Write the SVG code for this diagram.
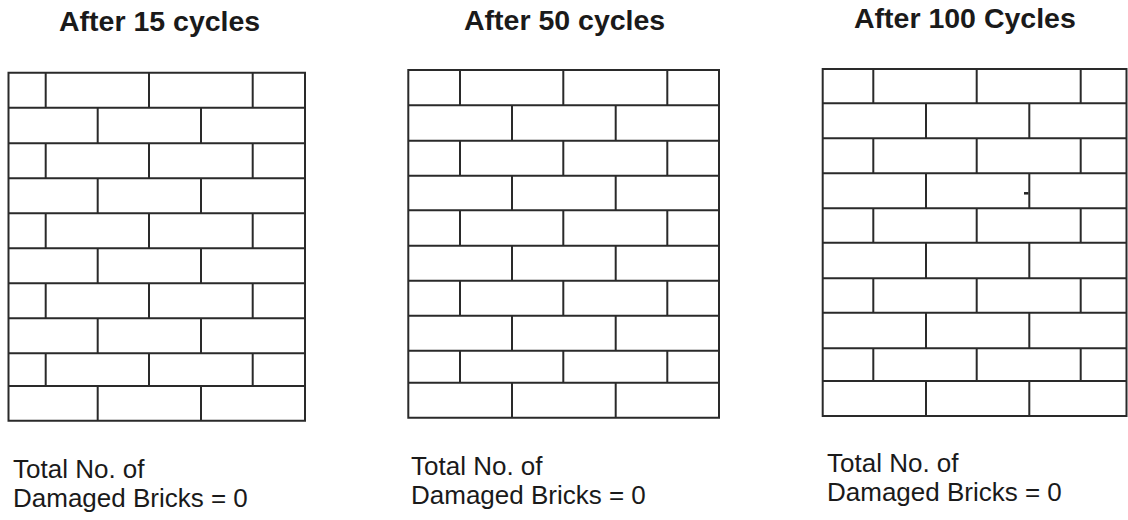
<svg xmlns="http://www.w3.org/2000/svg" width="1128" height="520" viewBox="0 0 1128 520">
<style>
.t{font-family:"Liberation Sans",Arial,sans-serif;font-weight:bold;font-size:28.5px;fill:#1a1a1a}
.b{font-family:"Liberation Sans",Arial,sans-serif;font-size:26px;fill:#1a1a1a}
.w{fill:none;stroke:#2a2a2a;stroke-width:2}
</style>
<rect width="1128" height="520" fill="#fff"/>
<g id="panel1">
<text class="t" x="59" y="31">After 15 cycles</text>
<path class="w" d="M8.5,72.7H305V420.7H8.5Z M8.5,107.7H305 M8.5,143.3H305 M8.5,178.3H305 M8.5,213.3H305 M8.5,248.3H305 M8.5,283.3H305 M8.5,318.3H305 M8.5,353.3H305 M8.5,386H305
M45.7,72.7V107.7 M149,72.7V107.7 M252.7,72.7V107.7
M97.7,107.7V143.3 M201,107.7V143.3
M45.7,143.3V178.3 M149,143.3V178.3 M252.7,143.3V178.3
M97.7,178.3V213.3 M201,178.3V213.3
M45.7,213.3V248.3 M149,213.3V248.3 M252.7,213.3V248.3
M97.7,248.3V283.3 M201,248.3V283.3
M45.7,283.3V318.3 M149,283.3V318.3 M252.7,283.3V318.3
M97.7,318.3V353.3 M201,318.3V353.3
M45.7,353.3V386 M149,353.3V386 M252.7,353.3V386
M97.7,386V420.7 M201,386V420.7"/>
<text class="b" x="13" y="478">Total No. of</text>
<text class="b" x="13" y="507">Damaged Bricks = 0</text>
</g>
<g id="panel2">
<text class="t" x="464" y="29.5">After 50 cycles</text>
<path class="w" d="M408.3,70H719V417.7H408.3Z M408.3,105.3H719 M408.3,140.7H719 M408.3,175.7H719 M408.3,210.3H719 M408.3,245.7H719 M408.3,280.7H719 M408.3,315.7H719 M408.3,350.7H719 M408.3,382.7H719
M460,70V105.3 M563.3,70V105.3 M667.3,70V105.3
M512,105.3V140.7 M615.7,105.3V140.7
M460,140.7V175.7 M563.3,140.7V175.7 M667.3,140.7V175.7
M512,175.7V210.3 M615.7,175.7V210.3
M460,210.3V245.7 M563.3,210.3V245.7 M667.3,210.3V245.7
M512,245.7V280.7 M615.7,245.7V280.7
M460,280.7V315.7 M563.3,280.7V315.7 M667.3,280.7V315.7
M512,315.7V350.7 M615.7,315.7V350.7
M460,350.7V382.7 M563.3,350.7V382.7 M667.3,350.7V382.7
M512,382.7V417.7 M615.7,382.7V417.7"/>
<text class="b" x="411" y="475">Total No. of</text>
<text class="b" x="411" y="504">Damaged Bricks = 0</text>
</g>
<g id="panel3">
<text class="t" x="854" y="27.5">After 100 Cycles</text>
<path class="w" d="M822.7,69H1126.5V416H822.7Z M822.7,103.3H1126.5 M822.7,138.3H1126.5 M822.7,173.3H1126.5 M822.7,208.3H1126.5 M822.7,242.7H1126.5 M822.7,278.3H1126.5 M822.7,312.7H1126.5 M822.7,348.3H1126.5 M822.7,381H1126.5
M873.3,69V103.3 M976.7,69V103.3 M1080.7,69V103.3
M926,103.3V138.3 M1029.3,103.3V138.3
M873.3,138.3V173.3 M976.7,138.3V173.3 M1080.7,138.3V173.3
M926,173.3V208.3 M1029.3,173.3V208.3
M873.3,208.3V242.7 M976.7,208.3V242.7 M1080.7,208.3V242.7
M926,242.7V278.3 M1029.3,242.7V278.3
M873.3,278.3V312.7 M976.7,278.3V312.7 M1080.7,278.3V312.7
M926,312.7V348.3 M1029.3,312.7V348.3
M873.3,348.3V381 M976.7,348.3V381 M1080.7,348.3V381
M926,381V416 M1029.3,381V416"/>
<path d="M1024,193.3H1028.5" stroke="#222" stroke-width="2.5"/>
<text class="b" x="827" y="472">Total No. of</text>
<text class="b" x="827" y="501">Damaged Bricks = 0</text>
</g>
<g id="connectors"></g>
</svg>
